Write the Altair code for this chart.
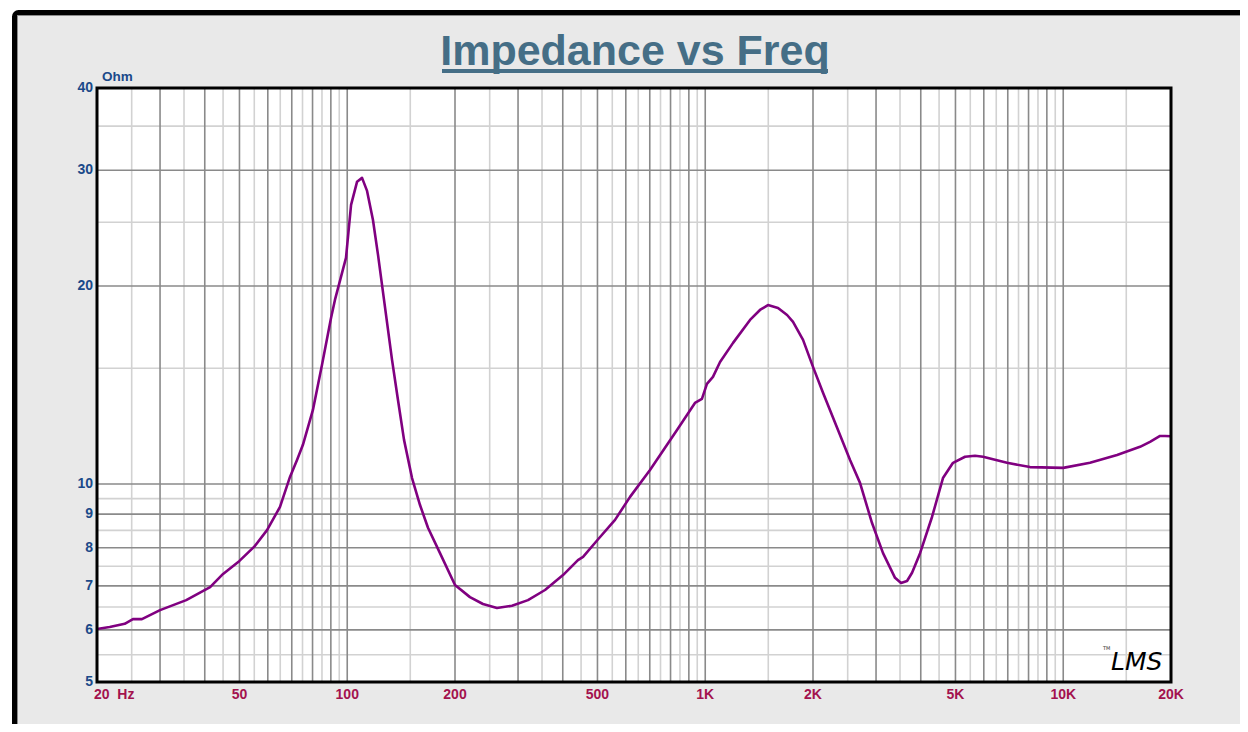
import altair as alt
import pandas as pd

# ---- data ----
freq = [20, 21.7, 23.9, 25.2, 26.7, 30, 35.5, 41.4, 45, 50, 55, 59.7, 64.9, 69.2, 72.4, 75.2, 80.2,
        85.0, 90.1, 92.4, 99.2, 102.5, 106.5, 110.0, 113.6, 118.0, 121.9, 126.7, 133.4,
        138.6, 144.1, 151.7, 159.7, 168.1, 181.6, 200, 220.2, 239.4, 262, 288.6, 319.8,
        356.8, 400.6, 441, 455.8, 500, 559.8, 616.6, 701, 834, 936, 979, 1011, 1051, 1100,
        1196, 1334, 1422, 1497, 1597, 1693, 1759, 1876, 2000, 2133, 2349, 2538, 2706, 2922,
        3138, 3390, 3523, 3662, 3782, 3982, 4300, 4614, 4922, 5318, 5670, 5970, 6966, 8076,
        10000, 11878, 14136, 16386, 17474, 18640, 19248, 20000]
imped = [6.02, 6.06, 6.13, 6.23, 6.23, 6.43, 6.66, 6.97, 7.30, 7.64, 8.03, 8.51, 9.23, 10.25, 10.88, 11.47,
         12.96, 15.17, 17.88, 19.05, 22.07, 26.57, 28.8, 29.2, 27.9, 25.2, 22.3, 19.05, 15.44,
         13.42, 11.67, 10.21, 9.29, 8.58, 7.85, 7.02, 6.73, 6.57, 6.48, 6.53, 6.66, 6.90, 7.27,
         7.66, 7.75, 8.22, 8.82, 9.56, 10.50, 12.08, 13.28, 13.47, 14.20, 14.55, 15.33, 16.39,
         17.76, 18.39, 18.71, 18.52, 18.07, 17.64, 16.56, 15.07, 13.76, 12.08, 10.88, 10.04,
         8.73, 7.85, 7.20, 7.07, 7.12, 7.33, 7.85, 8.91, 10.21, 10.77, 11.0, 11.04, 11.0,
         10.77, 10.61, 10.58, 10.77, 11.07, 11.39, 11.59, 11.83, 11.83, 11.82]

x_label_values = [50, 100, 200, 500, 1000, 2000, 5000, 10000, 20000]
x_label_texts = ["50", "100", "200", "500", "1K", "2K", "5K", "10K", "20K"]
x_first_value = [20]
x_first_text = ["20\u00a0\u00a0Hz"]
y_label_values = [5, 6, 7, 8, 9, 10, 20, 30, 40]
y_label_texts = ["5", "6", "7", "8", "9", "10", "20", "30", "40"]

x_grid_major = [30, 40, 50, 60, 70, 80, 90, 100, 200, 300, 400, 500, 600, 700, 800, 900,
                1000, 2000, 3000, 4000, 5000, 6000, 7000, 8000, 9000, 10000]
x_grid_minor = [25, 35, 45, 55, 65, 75, 85, 95, 150, 250, 350, 450, 550, 650, 750, 850, 950,
                1500, 2500, 3500, 4500, 5500, 6500, 7500, 8500, 9500, 15000]
y_grid_major = [6, 7, 8, 9, 10, 20, 30]
y_grid_minor = [5.5, 6.5, 7.5, 8.5, 9.5, 15, 25, 35]

title_text = "Impedance vs Freq"
unit_text = "Ohm"

W, H = 1074, 594
TITLE_COLOR = "#456e86"
YLAB_COLOR = "#1b4a8a"
XLAB_COLOR = "#a3124e"
LINE_COLOR = "#800080"

df = pd.DataFrame({"f": freq, "z": imped})
one = pd.DataFrame({"k": [0]})

xscale = alt.Scale(type="log", domain=[20, 20000], nice=False)
yscale = alt.Scale(type="log", domain=[5, 40], nice=False)

# outer frame
frame = alt.Chart(one).mark_rect(fill="#e9e9e9", stroke="black", strokeWidth=5, cornerRadius=4).encode(
    x=alt.value(-82.5), x2=alt.value(1200), y=alt.value(-75.5), y2=alt.value(700))
frame_inner = alt.Chart(one).mark_rect(fill="#e9e9e9", stroke="#8c8c8c", strokeWidth=1).encode(
    x=alt.value(-79.5), x2=alt.value(1200), y=alt.value(-72.5), y2=alt.value(700))
plot_bg = alt.Chart(one).mark_rect(fill="white").encode(
    x=alt.value(0), x2=alt.value(W), y=alt.value(0), y2=alt.value(H))

vminor = alt.Chart(pd.DataFrame({"f": x_grid_minor})).mark_rule(color="#d2d2d2", strokeWidth=1.6).encode(
    x=alt.X("f:Q", scale=xscale, axis=None), y=alt.value(0), y2=alt.value(H))
hminor = alt.Chart(pd.DataFrame({"z": y_grid_minor})).mark_rule(color="#d2d2d2", strokeWidth=1.6).encode(
    y=alt.Y("z:Q", scale=yscale, axis=None), x=alt.value(0), x2=alt.value(W))
vmajor = alt.Chart(pd.DataFrame({"f": x_grid_major})).mark_rule(color="#8a8a8a", strokeWidth=1.6).encode(
    x=alt.X("f:Q", scale=xscale, axis=None), y=alt.value(0), y2=alt.value(H))
hmajor = alt.Chart(pd.DataFrame({"z": y_grid_major})).mark_rule(color="#8a8a8a", strokeWidth=1.6).encode(
    y=alt.Y("z:Q", scale=yscale, axis=None), x=alt.value(0), x2=alt.value(W))

curve = alt.Chart(df).mark_line(color=LINE_COLOR, strokeWidth=2.6, strokeJoin="round").encode(
    x=alt.X("f:Q", scale=xscale, axis=None),
    y=alt.Y("z:Q", scale=yscale, axis=None),
    order="f:Q")

border = alt.Chart(one).mark_rect(fill="transparent", stroke="black", strokeWidth=3).encode(
    x=alt.value(0), x2=alt.value(W), y=alt.value(0), y2=alt.value(H))

# tick labels placed through the scales
xlab = alt.Chart(pd.DataFrame({"f": x_label_values, "t": x_label_texts})).mark_text(
    font="Liberation Sans", fontSize=14, fontWeight="bold", color=XLAB_COLOR,
    align="center", baseline="top").encode(
    x=alt.X("f:Q", scale=xscale, axis=None), y=alt.value(H + 6), text="t:N")
xlab0 = alt.Chart(pd.DataFrame({"f": x_first_value, "t": x_first_text})).mark_text(
    font="Liberation Sans", fontSize=14, fontWeight="bold", color=XLAB_COLOR,
    align="left", baseline="top", dx=-3).encode(
    x=alt.X("f:Q", scale=xscale, axis=None), y=alt.value(H + 6), text="t:N")
ylab = alt.Chart(pd.DataFrame({"z": y_label_values, "t": y_label_texts})).mark_text(
    font="Liberation Sans", fontSize=14, fontWeight="bold", color=YLAB_COLOR,
    align="right", baseline="middle").encode(
    y=alt.Y("z:Q", scale=yscale, axis=None), x=alt.value(-4), text="t:N")

title = alt.Chart(pd.DataFrame({"t": [title_text]})).mark_text(
    font="Liberation Sans", fontSize=43, fontWeight="bold", color=TITLE_COLOR,
    align="center", baseline="alphabetic").encode(
    text="t:N", x=alt.value(W / 2 + 1), y=alt.value(-23))
underline = alt.Chart(one).mark_rule(color=TITLE_COLOR, strokeWidth=4).encode(
    x=alt.value(W / 2 + 1 - 193), x2=alt.value(W / 2 + 1 + 193), y=alt.value(-17))
unit = alt.Chart(pd.DataFrame({"t": [unit_text]})).mark_text(
    font="Liberation Sans", fontSize=13.5, fontWeight="bold", color=YLAB_COLOR,
    align="left", baseline="alphabetic").encode(
    text="t:N", x=alt.value(5), y=alt.value(-7))

logo = alt.Chart(pd.DataFrame({"t": ["LMS"]})).mark_text(
    font="DejaVu Sans", fontSize=25, fontStyle="italic", color="black",
    align="left", baseline="alphabetic").encode(
    text="t:N", x=alt.value(1014), y=alt.value(582))
tm = alt.Chart(pd.DataFrame({"t": ["TM"]})).mark_text(
    font="DejaVu Sans", fontSize=5, color="#333333", align="left", baseline="alphabetic").encode(
    text="t:N", x=alt.value(1006), y=alt.value(562))

chart = alt.layer(
    frame, frame_inner, plot_bg, vminor, hminor, vmajor, hmajor, curve, border,
    xlab, xlab0, ylab, title, underline, unit, logo, tm
).properties(
    width=W, height=H,
    autosize=alt.AutoSizeParams(type="none"),
    padding={"left": 89, "top": 80, "right": 69, "bottom": 42},
    background="white",
).configure_view(stroke="transparent")

chart.save("out.html", embed_options={"renderer": "svg", "actions": False})
